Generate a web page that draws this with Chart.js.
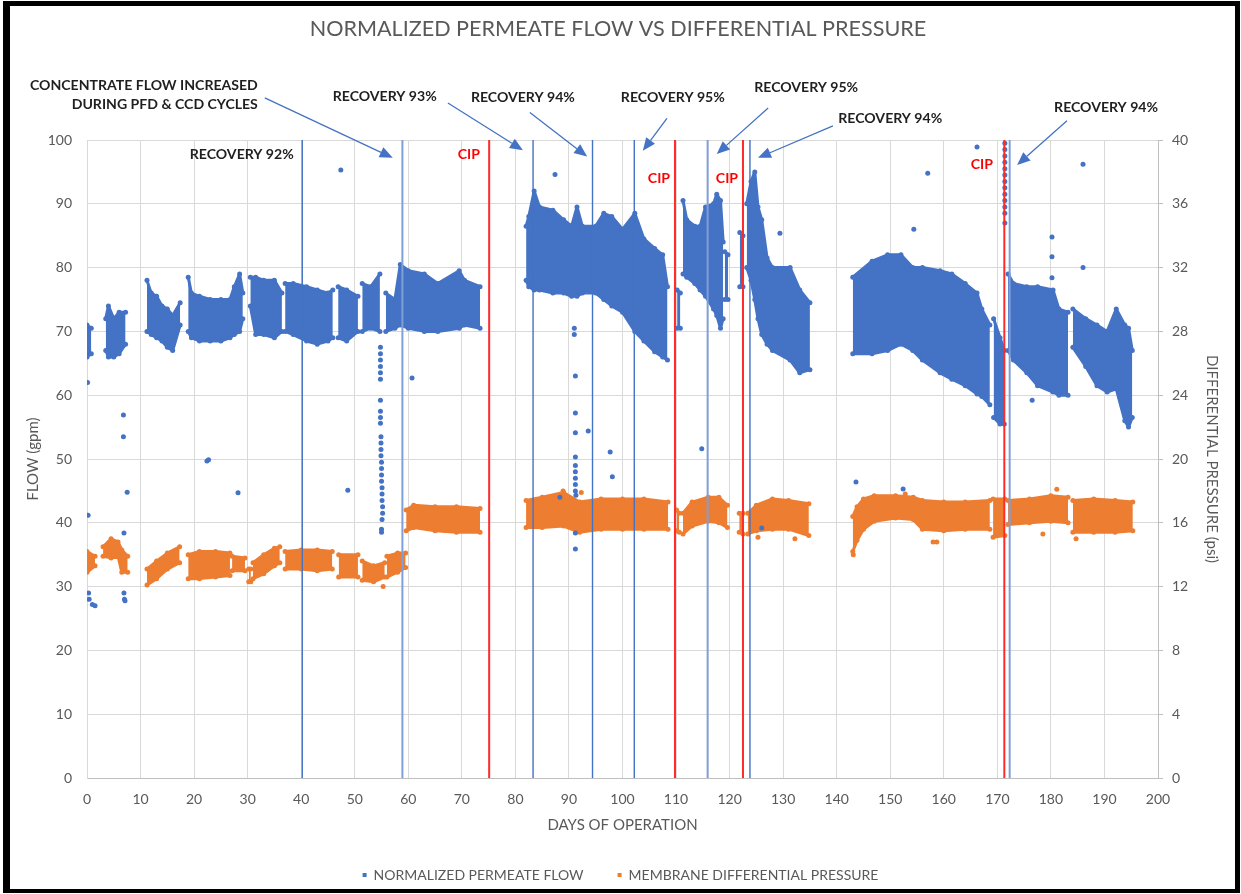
<!DOCTYPE html>
<html>
<head>
<meta charset="utf-8">
<title>Normalized Permeate Flow vs Differential Pressure</title>
<script src="https://cdn.jsdelivr.net/npm/chart.js@4.4.1/dist/chart.umd.min.js"></script>
<style>
  html, body { margin: 0; padding: 0; background: #fff; }
  #wrap { position: relative; width: 1241px; height: 894px; }
  #frame {
    position: absolute; left: 3px; top: 1px; width: 1237px; height: 892px;
    box-sizing: border-box; border-style: solid; border-color: #000;
    border-width: 5px 5px 4px 7px; pointer-events: none;
  }
</style>
</head>
<body>
<div id="wrap">
  <canvas id="chart" width="1241" height="894"></canvas>
  <div id="frame"></div>
</div>
<script>
// normalized permeate flow (gpm) - upper / lower edge of the point cloud, null = gap in the record
const flowDays = [
  0, 0.8, null,
  3.5, 4, 5, 6, 7.2, null,
  11.2, 12, 13, 14, 15, 16, 17.4, null,
  18.9, 19.5, 21, 23, 25, 26.7, 27.5, 28.5, 29.1, null,
  30.5, 31.5, 33, 35, 36.4, null,
  37, 38.5, 41, 43, 45, 45.9, null,
  46.9, 48.5, 50.6, null,
  51.4, 53, 54.7, null,
  55.8, 57.5, 58.5, 60, 63, 65.5, 69.5, 70.5, 73.4, null,
  82, 82.5, 83.5, 84.5, 87, 89, 90.5, 91.5, 92.5, 95, 96.5, 98, 100, 102.3, 104, 106, 107.5, 108.4, null,
  110.2, 110.8, null,
  111.3, 112, 113.5, 114.5, 115.5, 117, 117.6, 118.3, 118.8, null,
  119.1, 119.7, null,
  121.9, 122.5, null,
  123.2, 124, 124.7, 125.3, 126, 127, 128, 131.3, 133.1, 135, null,
  143, 146.6, 149.5, 152, 154.2, 156, 159.3, 161.5, 164, 166.2, 167.1, 168.6, null,
  169.3, 170.5, 171.3, null,
  172, 173, 175.5, 177.5, 180.4, 181.5, 183.2, null,
  184.1, 186.5, 188.6, 190.5, 192.2, 193.8, 194.5, 195.2
];
const flowHi = [
  71, 70.5, null,
  72, 74, 72, 73, 73, null,
  78, 76, 75.5, 74, 73.5, 72.5, 74.5, null,
  78.5, 76, 75.5, 75, 75, 75, 77, 79, 76, null,
  78.5, 78.5, 78, 78, 76, null,
  77.5, 77.5, 77, 76.5, 76, 76.5, null,
  77, 76.5, 75.5, null,
  77.5, 77, 79, null,
  76, 75, 80.5, 79.5, 79, 77.5, 79.5, 78, 77, null,
  86.5, 88, 92, 89.5, 89, 87.5, 86.5, 89.5, 86.5, 86.5, 88.5, 88, 86, 88.5, 84.5, 83, 82, 77, null,
  76.5, 76, null,
  90.5, 87.5, 86.5, 86.5, 89.5, 90, 91.5, 90.5, 84, null,
  82.5, 82, null,
  85.5, 85, null,
  90, 93.5, 95, 89.5, 87.5, 81.5, 80, 80, 76.5, 74.5, null,
  78.5, 81, 82, 82, 80, 80, 79.5, 79, 77.5, 76, 73.5, 71, null,
  72, 69, 67, null,
  79, 77.5, 77, 77, 76.5, 73.5, 73, null,
  73.5, 72, 71, 70, 73.5, 71, 70.5, 67
];
const flowLo = [
  66, 66.5, null,
  67, 66, 66, 66.5, 68, null,
  70, 69.5, 69, 68.5, 67.5, 67, 71, null,
  70, 69, 68.5, 68.5, 68.5, 69, 69.5, 70, 72, null,
  74, 69.5, 69.5, 69, 70, null,
  70, 69.5, 68.5, 68, 68.5, 69, null,
  69, 68.5, 70, null,
  70, 70.5, 70, null,
  70, 70.5, 71, 70.5, 70, 70, 70.5, 71, 70.5, null,
  78, 77, 76.5, 76.5, 76, 76, 75.5, 75.5, 76, 76, 75, 74, 73, 70, 68.5, 66.8, 66, 65.5, null,
  70.5, 70.5, null,
  79, 78.5, 77.5, 76.5, 75.5, 73.5, 72.5, 70.5, 72, null,
  75, 75, null,
  77, 77, null,
  80, 78, 75, 72, 69.5, 68, 67, 65.5, 63.5, 64, null,
  66.5, 66.5, 67, 68, 67, 65.5, 63.5, 62.5, 61.5, 60.2, 59.8, 58.5, null,
  56.5, 55.5, 55.5, null,
  67, 65.5, 63.5, 61.5, 60.5, 60, 60, null,
  67.5, 64.5, 61.5, 60.5, 61, 56, 55, 56.5
];
// single flow readings away from the main cloud
const flowOutDays = [0.1, 0.2, 0.3, 0.4, 1, 1.5, 6.8, 6.8, 7.5, 6.9, 6.9, 7, 7.1, 22.4, 22.7, 28.2, 47.4, 48.7,
  54.8, 54.8, 54.8, 54.8, 54.8, 54.8, 54.8, 54.8, 54.8, 54.8, 54.9, 54.9, 54.9, 54.9, 55, 55, 55, 55, 55.1, 55.1, 55.1, 55.2, 55.2, 55.1, 55, 55,
  60.7, 87.4, 88.3,
  91, 91, 91.2, 91.2, 91.2, 91.2, 91.2, 91.2, 91.2, 91.2, 91.2, 91.3, 91.2, 91.2, 93.6, 97.7, 98.1, 114.8, 126, 129.4,
  143.6, 152.4, 154.4, 157, 166.2,
  171.4, 171.4, 171.4, 171.4, 171.4, 171.4, 171.4, 171.4, 171.4, 171.4, 171.4, 171.4, 171.4,
  176.5, 180.2, 180.2, 180.2, 186, 186];
const flowOutVals = [62, 41.2, 29, 28, 27.2, 27, 56.9, 53.5, 44.8, 38.4, 29, 28, 27.8, 49.7, 49.9, 44.7, 95.3, 45.1,
  67.5, 66.5, 65.5, 64.5, 63.5, 62.5, 59.2, 57.5, 56.5, 55.6, 53.5, 52.5, 51.5, 50.5, 49.5, 48.5, 47.5, 46.5, 45.5, 44.5, 43.5, 42.5, 41.5, 40.5, 39, 38.5,
  62.7, 94.6, 44,
  70.5, 69.5, 63, 57.2, 54.1, 50.3, 49, 48, 47, 46, 45, 44.3, 38.4, 35.9, 54.4, 51.1, 47.2, 51.6, 39.2, 85.4,
  46.4, 45.3, 86, 94.8, 98.9,
  99.5, 98.5, 97.5, 96.5, 95.5, 94.5, 93.5, 92.5, 91.5, 90.5, 89.5, 88.5, 87,
  59.2, 84.8, 81.7, 78.4, 96.2, 80];

// membrane differential pressure (psi) - upper / lower edge of the point cloud
const dpDays = [
  0, 1.5, null,
  3, 4.5, 5.8, 6.5, 7.6, null,
  11.2, 13, 15, 17.3, null,
  18.9, 21, 24, 26.7, null,
  27.1, 29.5, null,
  30.2, 30.6, null,
  31, 33, 35, 36, null,
  37, 40, 43, 45.8, null,
  47, 50.6, null,
  51.4, 53.5, 55.6, null,
  56, 58, 59.5, null,
  59.6, 61, 65, 69, 73.4, null,
  82, 85, 89, 92, 96, 100, 104, 108.5, null,
  110.1, 110.6, null,
  111.3, 113, 116, 118, 119.6, null,
  121.8, 122.5, null,
  123.4, 125, 128, 131, 134.8, null,
  143, 143.8, 145, 147, 151, 154.3, 156, 160, 164, 168.6, null,
  169.2, 171.4, null,
  172, 176, 180, 183.2, null,
  184.1, 188, 192, 195.3
];
const dpHi = [
  14.2, 13.9, null,
  14.5, 15.0, 14.8, 14.3, 13.9, null,
  13.1, 13.6, 14.1, 14.5, null,
  14.0, 14.2, 14.2, 14.1, null,
  13.9, 13.8, null,
  13.1, 13.1, null,
  13.5, 14.0, 14.4, 14.5, null,
  14.2, 14.3, 14.3, 14.2, null,
  14.0, 14.0, null,
  13.6, 13.3, 13.5, null,
  13.9, 14.1, 14.1, null,
  16.8, 17.1, 17.0, 17.0, 16.9, null,
  17.4, 17.6, 17.9, 17.3, 17.5, 17.5, 17.5, 17.3, null,
  16.8, 16.6, null,
  16.6, 17.3, 17.6, 17.6, 17.1, null,
  16.6, 16.6, null,
  16.6, 17.1, 17.5, 17.4, 17.2, null,
  16.4, 17.0, 17.5, 17.7, 17.7, 17.6, 17.4, 17.3, 17.3, 17.4, null,
  17.5, 17.5, null,
  17.4, 17.5, 17.7, 17.6, null,
  17.4, 17.5, 17.4, 17.3
];
const dpLo = [
  12.9, 13.3, null,
  13.9, 13.8, 13.9, 12.9, 12.9, null,
  12.1, 12.5, 13.1, 13.5, null,
  12.5, 12.5, 12.6, 12.7, null,
  13.0, 13.0, null,
  12.3, 12.3, null,
  12.5, 12.8, 13.3, 13.5, null,
  13.1, 13.1, 13.0, 13.1, null,
  12.6, 12.6, null,
  12.4, 12.3, 12.6, null,
  12.6, 12.9, 13.2, null,
  15.5, 15.7, 15.5, 15.4, 15.4, null,
  15.7, 15.7, 15.8, 15.4, 15.6, 15.6, 15.6, 15.6, null,
  15.5, 15.4, null,
  15.3, 15.8, 16.1, 16.0, 15.7, null,
  15.4, 15.3, null,
  15.3, 15.5, 15.6, 15.6, 15.2, null,
  14.2, 14.9, 15.6, 16.1, 16.3, 16.2, 15.6, 15.5, 15.6, 15.6, null,
  15.1, 15.2, null,
  15.9, 16.0, 16.1, 16.0, null,
  15.4, 15.4, 15.4, 15.5
];
const dpOutDays = [55.3, 143.1, 125.3, 132.2, 158, 158.7, 178.5, 184.7, 181.1, 152.8, 88.9, 92.3];
const dpOutVals = [12.0, 14.0, 15.1, 15.0, 14.8, 14.8, 15.3, 15.0, 18.1, 17.8, 18.0, 17.9];

// event markers (days of operation)
const recoveryDays = [40.2, 58.9, 83.3, 94.4, 102.2, 115.9, 123.8, 172.3];
const cipDays = [75.1, 109.8, 122.5, 171.3];

const legendNames = ['NORMALIZED PERMEATE FLOW', 'MEMBRANE DIFFERENTIAL PRESSURE'];

const BLUE = '#4472C4';
const ORANGE = '#ED7D31';
const RED = '#FF2A2A';
const GREY = '#595959';
const FONT = 'Lato, "Open Sans", "DejaVu Sans", sans-serif';

function toPoints(days, vals) {
    const pts = [];
    let last = 0;
    days.forEach((d, i) => {
        if (d === null || vals[i] === null) {
            pts.push({ x: last, y: null });
        } else {
            pts.push({ x: d, y: vals[i] });
            last = d;
        }
    });
    return pts;
}

function band(days, hi, lo, color, axis, label) {
    const common = {
        type: 'line', yAxisID: axis, borderColor: color, borderWidth: 3,
        borderJoinStyle: 'round', pointRadius: 2.5, pointBackgroundColor: color,
        pointBorderWidth: 0, spanGaps: false, tension: 0, order: 3
    };
    return [
        Object.assign({}, common, { label: label, data: toPoints(days, lo), fill: false }),
        Object.assign({}, common, { label: '', data: toPoints(days, hi), fill: '-1', backgroundColor: color })
    ];
}

function marker(day, color, width) {
    return {
        type: 'line', label: '', yAxisID: 'y', order: 0,
        data: [{ x: day, y: 0 }, { x: day, y: 100 }],
        borderColor: color, borderWidth: width, pointRadius: 0, fill: false
    };
}

const lightRecovery = [58.9, 115.9, 172.3];

const datasets = [];
datasets.push(...band(flowDays, flowHi, flowLo, BLUE, 'y', legendNames[0]));
datasets.push(...band(dpDays, dpHi, dpLo, ORANGE, 'y1', legendNames[1]));
datasets.push({
    type: 'scatter', label: '', yAxisID: 'y', order: 2,
    data: toPoints(flowOutDays, flowOutVals),
    pointRadius: 2.5, pointBackgroundColor: BLUE, pointBorderWidth: 0
});
datasets.push({
    type: 'scatter', label: '', yAxisID: 'y1', order: 2,
    data: toPoints(dpOutDays, dpOutVals),
    pointRadius: 2.5, pointBackgroundColor: ORANGE, pointBorderWidth: 0
});
recoveryDays.forEach(d => {
    const light = lightRecovery.includes(d);
    datasets.push(marker(d, light ? '#7F9FD8' : BLUE, light ? 2 : 1.4));
});
cipDays.forEach(d => datasets.push(marker(d, RED, 2)));

// font size that makes text span a given pixel width
function fitSize(ctx, text, width, weight) {
    ctx.font = `${weight} 20px ${FONT}`;
    return 20 * width / ctx.measureText(text).width;
}

function arrow(ctx, x1, y1, x2, y2) {
    const ang = Math.atan2(y2 - y1, x2 - x1);
    const len = 13, half = 5.5;
    const bx = x2 - len * Math.cos(ang), by = y2 - len * Math.sin(ang);
    ctx.strokeStyle = BLUE;
    ctx.fillStyle = BLUE;
    ctx.lineWidth = 1.3;
    ctx.beginPath();
    ctx.moveTo(x1, y1);
    ctx.lineTo(bx, by);
    ctx.stroke();
    ctx.beginPath();
    ctx.moveTo(x2, y2);
    ctx.lineTo(bx + half * Math.sin(ang), by - half * Math.cos(ang));
    ctx.lineTo(bx - half * Math.sin(ang), by + half * Math.cos(ang));
    ctx.closePath();
    ctx.fill();
}

// notes are placed in day / flow units so they follow the axes
const notes = [
    { text: 'CONCENTRATE FLOW INCREASED', day: 31.9, val: 108.6, align: 'right' },
    { text: 'DURING PFD & CCD CYCLES', day: 31.9, val: 105.6, align: 'right' },
    { text: 'RECOVERY 93%', day: 55.6, val: 106.9 },
    { text: 'RECOVERY 94%', day: 81.4, val: 106.6 },
    { text: 'RECOVERY 95%', day: 109.4, val: 106.6 },
    { text: 'RECOVERY 95%', day: 134.3, val: 108.3 },
    { text: 'RECOVERY 94%', day: 150, val: 103.4 },
    { text: 'RECOVERY 94%', day: 190.3, val: 105.1 },
    { text: 'RECOVERY 92%', day: 28.9, val: 97.8 },
    { text: 'CIP', day: 71.3, val: 97.8, red: true },
    { text: 'CIP', day: 106.8, val: 94, red: true },
    { text: 'CIP', day: 119.5, val: 94, red: true },
    { text: 'CIP', day: 167.1, val: 96.2, red: true }
];
const arrows = [
    [33.2, 106.6, 57.1, 97.2],
    [67.4, 105.8, 81.4, 98.4],
    [82.7, 104.3, 93.4, 97.4],
    [108.3, 103.4, 103.8, 98.3],
    [127.2, 105, 117.6, 97.8],
    [139.3, 102.2, 125.3, 97.2],
    [183, 103, 173.7, 96.1]
];

const notesPlugin = {
    id: 'notes',
    afterDraw(chart) {
        const { ctx, scales: { x, y } } = chart;
        ctx.save();
        // title
        const title = 'NORMALIZED PERMEATE FLOW VS DIFFERENTIAL PRESSURE';
        const ts = fitSize(ctx, title, 617, 'normal');
        ctx.font = `normal ${ts}px ${FONT}`;
        ctx.fillStyle = GREY;
        ctx.textAlign = 'center';
        ctx.textBaseline = 'middle';
        ctx.fillText(title, 618, 29);

        const bs = fitSize(ctx, 'RECOVERY 94%', 104, 'bold');
        ctx.font = `bold ${bs}px ${FONT}`;
        notes.forEach(n => {
            ctx.fillStyle = n.red ? '#FF0000' : '#1F1F1F';
            ctx.textAlign = n.align || 'center';
            ctx.fillText(n.text, x.getPixelForValue(n.day), y.getPixelForValue(n.val));
        });
        arrows.forEach(a => arrow(ctx, x.getPixelForValue(a[0]), y.getPixelForValue(a[1]),
            x.getPixelForValue(a[2]), y.getPixelForValue(a[3])));
        ctx.restore();
    }
};

new Chart(document.getElementById('chart'), {
    type: 'line',
    data: { datasets: datasets },
    plugins: [notesPlugin],
    options: {
        responsive: false,
        animation: false,
        layout: { padding: { top: 140, left: 0, right: 0, bottom: 2 } },
        plugins: {
            tooltip: { enabled: false },
            title: { display: false },
            legend: {
                position: 'bottom',
                onClick: () => {},
                labels: {
                    usePointStyle: true,
                    boxWidth: 4,
                    boxHeight: 4,
                    padding: 34,
                    color: GREY,
                    font: { family: FONT, size: 14 },
                    generateLabels: () => legendNames.map((t, i) => ({
                        text: t,
                        fillStyle: i === 0 ? BLUE : ORANGE,
                        strokeStyle: i === 0 ? BLUE : ORANGE,
                        lineWidth: 0,
                        pointStyle: 'rect',
                        hidden: false,
                        fontColor: GREY,
                        datasetIndex: i * 2
                    }))
                }
            }
        },
        scales: {
            x: {
                type: 'linear',
                min: 0,
                max: 200,
                afterFit: s => { s.height = 56; },
                ticks: { stepSize: 10, color: GREY, font: { family: FONT, size: 14 }, padding: 13, maxRotation: 0 },
                grid: { color: '#d9d9d9', drawTicks: false },
                border: { color: '#bfbfbf' },
                title: {
                    display: true, text: 'DAYS OF OPERATION', color: GREY,
                    font: { family: FONT, size: 15 }, padding: { top: 0, bottom: 0 }
                }
            },
            y: {
                position: 'left',
                min: 0,
                max: 100,
                afterFit: s => { s.width = 87; },
                ticks: { stepSize: 10, color: GREY, font: { family: FONT, size: 14 }, padding: 15 },
                grid: { color: '#d9d9d9', drawTicks: false },
                border: { color: '#d9d9d9' },
                title: {
                    display: true, text: 'FLOW (gpm)', color: GREY,
                    font: { family: FONT, size: 15 }, padding: { top: 24, bottom: 0 }
                }
            },
            y1: {
                position: 'right',
                min: 0,
                max: 40,
                afterFit: s => { s.width = 83; },
                ticks: { stepSize: 4, color: GREY, font: { family: FONT, size: 14 }, padding: 9 },
                grid: { drawOnChartArea: false, color: '#bfbfbf', tickLength: 5 },
                border: { color: '#bfbfbf' },
                title: {
                    display: true, text: 'DIFFERENTIAL PRESSURE (psi)', color: GREY,
                    font: { family: FONT, size: 15 }, padding: { top: 20, bottom: 0 }
                }
            }
        }
    }
});
</script>
</body>
</html>
